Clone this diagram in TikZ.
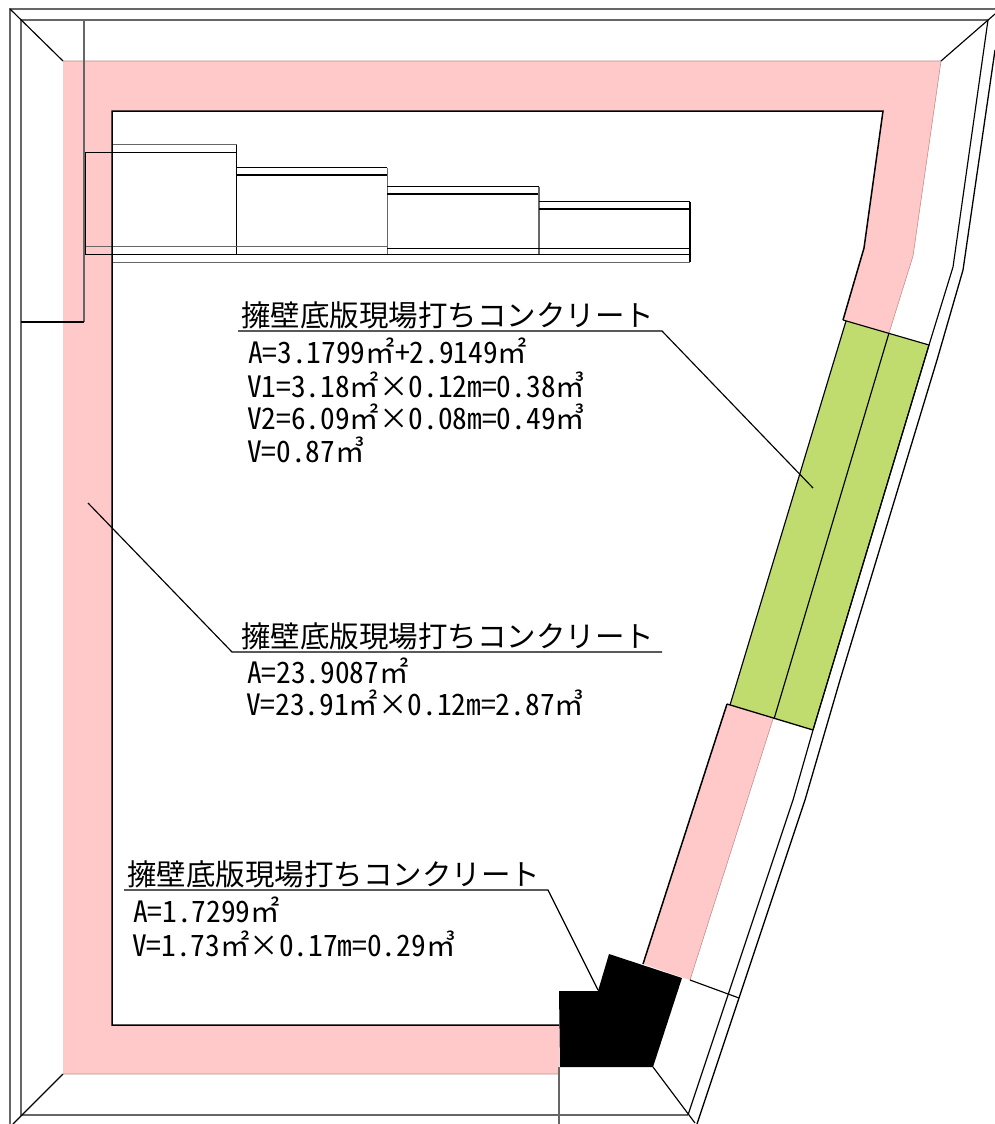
\documentclass[tikz,border=0pt]{standalone}
\usepackage{fontspec}
\setmainfont[RawFeature=+hwid]{Noto Sans CJK JP}
\definecolor{wallpink}{HTML}{FFC9C9}
\definecolor{edgepink}{HTML}{C09090}
\definecolor{padgreen}{HTML}{C1DC6E}
\definecolor{soft}{HTML}{666666}
\tikzset{
  ink/.style={draw=black,line width=1.15pt,line join=miter},
  heavy/.style={draw=black,line width=1.5pt,line join=miter},
  pale/.style={draw=soft,line width=1.3pt},
  edgeline/.style={draw=edgepink,line width=.6pt},
  titletext/.style={anchor=base west,inner sep=0pt,outer sep=0pt,font=\fontsize{29.5}{30}\selectfont},
  bodytext/.style={anchor=base west,inner sep=0pt,outer sep=0pt,font=\fontsize{29.4}{30}\selectfont},
}
\begin{document}
\begin{tikzpicture}[x=1pt,y=-1pt]
\useasboundingbox (0,0) rectangle (995,1124);
% fills
\fill[wallpink] (63,61) -- (941,61) -- (913,256) -- (889,333) -- (843,320) -- (864,248) -- (883,111) -- (112,111) -- (112,1025) -- (559,1025) -- (559,1074) -- (63,1074) -- cycle;
\fill[wallpink] (727,704) -- (773,719) -- (690,980) -- (643,964) -- cycle;
\fill[padgreen] (846,321) -- (929,345) -- (813,730) -- (730,705) -- cycle;
\fill[black] (609,954) -- (682,978) -- (653,1067) -- (560,1067) -- (559,991) -- (598,991) -- cycle;
\draw[edgeline] (63,1074) -- (559,1074) (63,61) -- (941,61) -- (913,256) -- (889,333) (773,719) -- (690,980);
% outer frame
\draw[pale] (995,9) -- (10,9) -- (10,1124);
\draw[pale] (988,20) -- (21,20) -- (21,1115) -- (688,1115);
\draw[ink] (10,9) -- (63,61);
\draw[ink] (941,61) -- (995,14);
\draw[ink] (63,1074) -- (13,1124);
\draw[ink] (653,1067) -- (695,1123);
\draw[pale] (559,1067) -- (559,1124);
\draw[ink] (988,20) -- (953,267) -- (929,345) -- (813,730) -- (793,800) -- (688,1115);
\draw[ink,line width=1.3pt] (995,50) -- (963,270) -- (937,360) -- (840,680) -- (805,800) -- (697,1124);
\draw[ink] (690,980) -- (739,998);
% left box
\draw[pale] (84,20) -- (84,322);
\draw[ink] (21,322) -- (84,322);
% steps
\draw[pale] (112,144.5) -- (237,144.5);
\draw[ink] (85.5,254.5) -- (85.5,152.5) -- (237,152.5);
\draw[ink] (236.5,144.5) -- (236.5,254.5);
\draw[ink] (237,167.5) -- (387,167.5) (237,175) -- (387,175);
\draw[pale] (387.5,167.5) -- (387.5,254.5);
\draw[ink] (387,186.7) -- (539,186.7) (387,194) -- (539,194);
\draw[pale] (539,186.7) -- (539,254.5);
\draw[ink] (539,201.7) -- (690,201.7) (539,209) -- (690,209);
\draw[ink] (690,201.7) -- (690,262);
\draw[pale,line width=1pt] (85.5,246.5) -- (387,246.5);
\draw[ink] (387,248.3) -- (690,248.3);
\draw[ink] (85.5,254.5) -- (690,254.5);
\draw[pale,line width=1pt] (112,262) -- (690,262);
% wall outlines
\draw[heavy] (843,320) -- (864,248) -- (883,111) -- (112,111) -- (112,1025) -- (559,1025);
\draw[heavy] (643,964) -- (727,704);
\draw[ink] (843,320) -- (929,345);
\draw[ink,line width=1.3pt] (727,704) -- (813,730);
\draw[ink] (889,333) -- (774,719);
\draw[ink] (846,321) -- (730,705);
\draw[ink] (929,345) -- (813,730);
% labels
\node[titletext] (t1) at (241,326) {擁壁底版現場打ちコンクリート};
\node[bodytext] (a1) at (248,363) {A=3.1799㎡+2.9149㎡};
\node[bodytext] (v1) at (247,397) {V1=3.18㎡×0.12m=0.38㎥};
\node[bodytext] (v2) at (247,429) {V2=6.09㎡×0.08m=0.49㎥};
\node[bodytext] (v3) at (247,462) {V=0.87㎥};
\node[titletext] (t2) at (241,647) {擁壁底版現場打ちコンクリート};
\node[bodytext] (a2) at (247,683) {A=23.9087㎡};
\node[bodytext] (v4) at (246,715) {V=23.91㎡×0.12m=2.87㎥};
\node[titletext] (t3) at (127,885) {擁壁底版現場打ちコンクリート};
\node[bodytext] (a3) at (133,922) {A=1.7299㎡};
\node[bodytext] (v5) at (132,956) {V=1.73㎡×0.17m=0.29㎥};
% leaders
\coordinate (l1a) at (238,331); \coordinate (l1b) at (662,331); \coordinate (l1c) at (813,488);
\coordinate (l2a) at (88,503); \coordinate (l2b) at (232,652); \coordinate (l2c) at (662,652);
\coordinate (l3a) at (124,890); \coordinate (l3b) at (548,890); \coordinate (l3c) at (598,990);
\draw[ink] (l1a) -- (l1b) -- (l1c);
\draw[ink] (l2a) -- (l2b) -- (l2c);
\draw[ink] (l3a) -- (l3b) -- (l3c);
\end{tikzpicture}
\end{document}
